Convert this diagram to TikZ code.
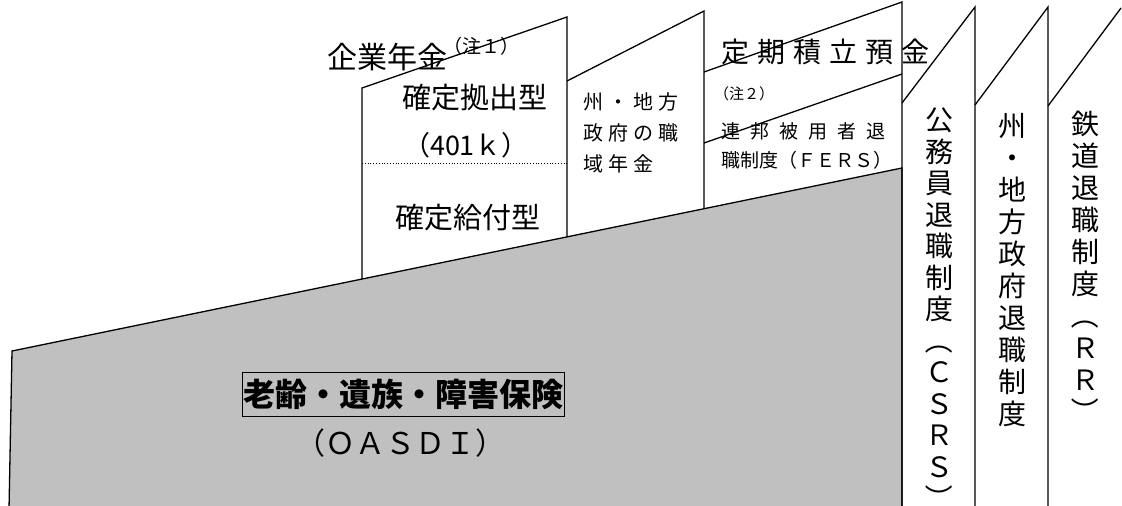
\documentclass[tikz,border=0pt]{standalone}
\usepackage{graphicx}
\usepackage{fontspec}
\setmainfont{Noto Sans CJK JP}
\definecolor{oasdigray}{RGB}{192,192,192}
\newcommand\myls[2]{\def\mylsamt{#1}\mylsA#2\relax}
\def\mylsA#1{\ifx\relax#1\else#1\expandafter\mylsB\fi}
\def\mylsB#1{\ifx\relax#1\else\kern\mylsamt#1\expandafter\mylsB\fi}
\newcommand\vparL{\rotatebox[origin=c]{-90}{（}}
\newcommand\vparR{\rotatebox[origin=c]{-90}{）}}
\newcommand\fsz[2]{\fontsize{#1}{#2}\selectfont}
\begin{document}
\begin{tikzpicture}[x=1pt,y=-1pt,
  outline/.style={line width=1.3pt, line join=miter},
  txt/.style={inner sep=0pt},
  vtext/.style={inner sep=0pt, align=center, font=\fsz{28}{32}}]
\useasboundingbox (0,0) rectangle (1122,506);
% OASDI base
\draw[outline, fill=oasdigray] (9,510) -- (12,351) -- (902,168) -- (902,510);
% corporate pension box
\draw[outline] (362,279) -- (362,88) -- (567,17) -- (567,237);
\draw[line width=0.8pt, dotted] (362,163) -- (567,163);
% state/local box
\draw[outline] (567,81) -- (704,11) -- (704,208);
% FERS / TSP box
\draw[outline] (704,72) -- (902,2) -- (902,510);
\draw[outline] (704,143) -- (902,74);
% vertical columns
\draw[outline] (902,103) -- (975,7) -- (975,510);
\draw[outline] (975,105) -- (1048,7) -- (1048,510);
\draw[outline] (1048,106) -- (1121,8);
% texts
\node[txt, font=\fsz{30}{34}] (kigyo) at (387,57) {企業年金};
\node[txt, font=\fsz{19}{22}, anchor=west] (note1) at (443,46) {（注１）};
\node[txt, font=\fsz{29}{33}] (dc) at (475,98) {確定拠出型};
\node[txt, font=\fsz{27}{31}] (k401) at (466,145) {（401ｋ）};
\node[txt, font=\fsz{29}{33}] (db) at (468,218) {確定給付型};
\node[txt, font=\fsz{20}{31}, align=left, anchor=west] (state) at (583,133)
  {\myls{5pt}{州・地方}\\\myls{5pt}{政府の職}\\\myls{5pt}{域年金}};
\node[txt, font=\fsz{28}{32}, anchor=west] (tsp) at (721,52) {\myls{8pt}{定期積立預金}};
\node[txt, font=\fsz{15}{18}, anchor=west] (note2) at (714,94) {（注２）};
\node[txt, font=\fsz{19}{29}, align=left, anchor=west] (fers) at (721,146)
  {\myls{10pt}{連邦被用者退}\\職制度（ＦＥＲＳ）};
\node[vtext, font=\fsz{28}{31.5}] (csrs) at (939,310) {公\\務\\員\\退\\職\\制\\度\\\vparL\\Ｃ\\Ｓ\\Ｒ\\Ｓ\\\vparR};
\node[vtext] (slret) at (1012,270) {州\\・\\地\\方\\政\\府\\退\\職\\制\\度};
\node[vtext] (rr) at (1085,268) {鉄\\道\\退\\職\\制\\度\\\vparL\\Ｒ\\Ｒ\\\vparR};
\node[draw, line width=1pt, inner xsep=1pt, minimum height=44pt, font=\fsz{32}{36}\bfseries] (oasdi) at (403,394) {老齢・遺族・障害保険};
\node[txt, font=\fsz{30}{34}] (oasdien) at (400,443) {（ＯＡＳＤＩ）};
\end{tikzpicture}
\end{document}
